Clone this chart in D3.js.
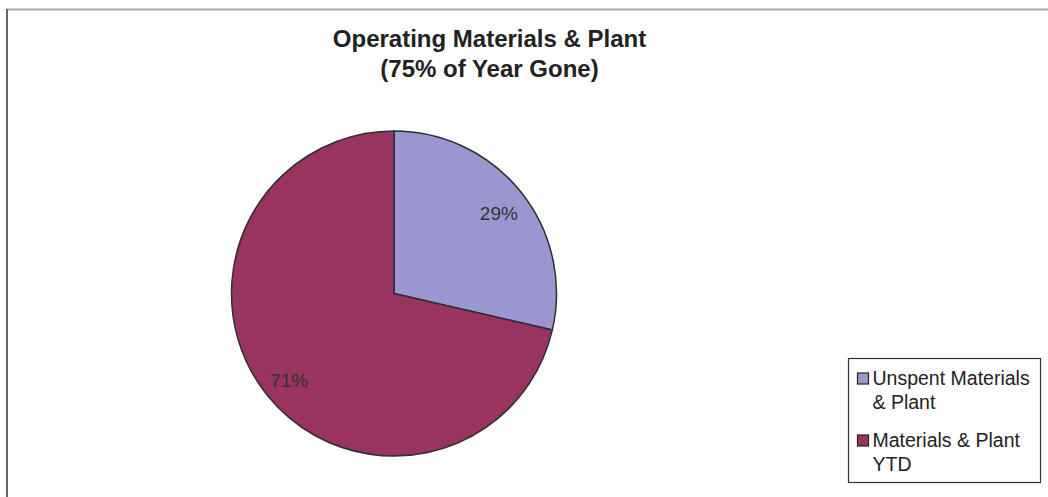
<!DOCTYPE html>
<html>
<head>
<meta charset="utf-8">
<script src="https://cdn.jsdelivr.net/npm/d3@7/dist/d3.min.js"></script>
<style>
  html, body { margin: 0; padding: 0; background: #fff; }
  svg { display: block; font-family: "Liberation Sans", Arial, sans-serif; }
</style>
</head>
<body>
<svg id="chart" width="1048" height="497"></svg>
<script>
const categories = ["Unspent Materials & Plant", "Materials & Plant YTD"];
const legendLines = [["Unspent Materials", "& Plant"], ["Materials & Plant", "YTD"]];
const values = [28.6, 71.4];
const labels = ["29%", "71%"];
const colors = ["#9a97d0", "#99335f"];
const titleLines = ["Operating Materials & Plant", "(75% of Year Gone)"];

const svg = d3.select("#chart");

// frame
svg.append("line").attr("x1", 6).attr("y1", 9.5).attr("x2", 1048).attr("y2", 9.5)
  .attr("stroke", "#a8a8ac").attr("stroke-width", 2);
svg.append("line").attr("x1", 7).attr("y1", 9).attr("x2", 7).attr("y2", 497)
  .attr("stroke", "#68666c").attr("stroke-width", 2);

// title
const title = svg.append("text").attr("text-anchor", "middle")
  .attr("font-weight", "bold").attr("font-size", 24).attr("fill", "#222");
titleLines.forEach((t, i) => {
  title.append("tspan").attr("x", 489.5).attr("y", 47 + i * 30).text(t);
});

// pie
const cx = 394, cy = 293.5, r = 162.5;
const pie = d3.pie().sort(null).value(d => d);
const arcs = pie(values);
const arc = d3.arc().innerRadius(0).outerRadius(r);
const labelArc = d3.arc().innerRadius(134).outerRadius(134);
const g = svg.append("g").attr("transform", `translate(${cx},${cy})`);
g.selectAll("path").data(arcs).join("path")
  .attr("d", arc)
  .attr("fill", (d, i) => colors[i])
  .attr("stroke", "#2e2e33").attr("stroke-width", 1.5).attr("stroke-linejoin", "round");
g.selectAll("text").data(arcs).join("text")
  .attr("transform", d => { const [x, y] = labelArc.centroid(d); return `translate(${x},${y + 3})`; })
  .attr("text-anchor", "middle").attr("dy", "0.35em")
  .attr("font-size", 19).attr("fill", "#333")
  .text((d, i) => labels[i]);

// legend
const lg = svg.append("g");
lg.append("rect").attr("x", 848.5).attr("y", 358.5).attr("width", 192).attr("height", 124)
  .attr("fill", "#fff").attr("stroke", "#333").attr("stroke-width", 1.2);
const rowY = [385, 447];
categories.forEach((c, i) => {
  lg.append("rect").attr("x", 857.5).attr("y", rowY[i] - 12).attr("width", 11).attr("height", 11)
    .attr("fill", colors[i]).attr("stroke", "#222").attr("stroke-width", 1.2);
  const t = lg.append("text").attr("font-size", 19.5).attr("fill", "#222");
  legendLines[i].forEach((line, j) => {
    t.append("tspan").attr("x", 872.5).attr("y", rowY[i] + j * 24).text(line);
  });
});
</script>
</body>
</html>
